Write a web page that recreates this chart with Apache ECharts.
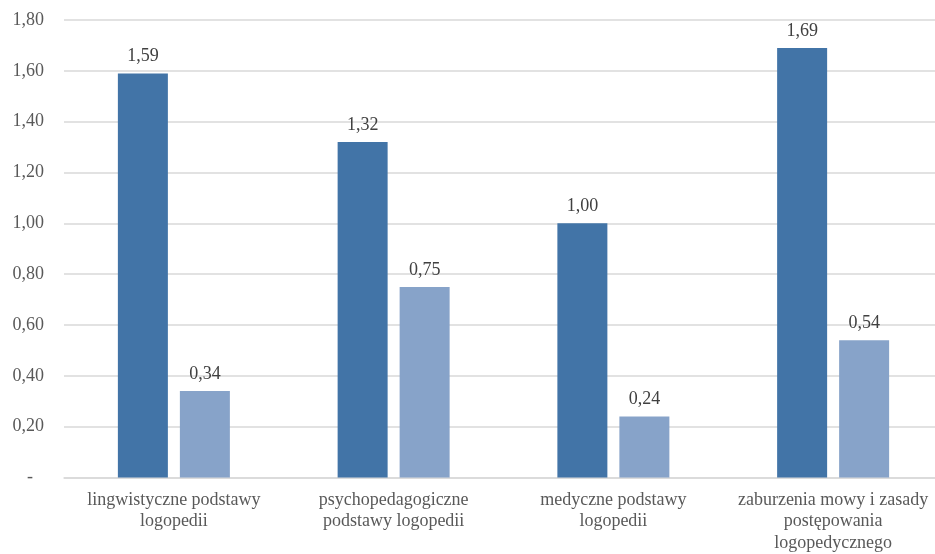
<!DOCTYPE html>
<html>
<head>
<meta charset="utf-8">
<script src="https://cdn.jsdelivr.net/npm/echarts@6/dist/echarts.min.js"></script>
<style>
  html, body { margin: 0; padding: 0; background: #fff; overflow: hidden; }
  /* the plot area runs a few pixels past the visible right edge */
  #chart { width: 945px; height: 554px; }
</style>
</head>
<body>
<div id="chart"></div>
<script>
// Subject areas (category axis)
const categories = [
  'lingwistyczne podstawy\nlogopedii',
  'psychopedagogiczne\npodstawy logopedii',
  'medyczne podstawy\nlogopedii',
  'zaburzenia mowy i zasady\npostępowania\nlogopedycznego'
];
// First series (dark bars)
const seriesA = [1.59, 1.32, 1.00, 1.69];
// Second series (light bars)
const seriesB = [0.34, 0.75, 0.24, 0.54];
// Value axis ticks
const yMin = 0, yMax = 1.8, yStep = 0.2;

const fmt = v => Math.abs(v) < 1e-9 ? '-' : v.toFixed(2).replace('.', ',');
const font = '"Liberation Serif", "Times New Roman", serif';

const chart = echarts.init(document.getElementById('chart'), null, { renderer: 'canvas' });
chart.setOption({
  animation: false,
  textStyle: { fontFamily: font },
  grid: { left: 64, right: 2, top: 20, bottom: 76, containLabel: false },
  xAxis: {
    type: 'category',
    data: categories,
    axisTick: { show: false },
    axisLine: { lineStyle: { color: '#d9d9d9', width: 1.5 } },
    axisLabel: {
      color: '#595959', fontSize: 18, fontFamily: font,
      lineHeight: 21.5, margin: 12, interval: 0
    }
  },
  yAxis: {
    type: 'value',
    min: yMin, max: yMax, interval: yStep,
    axisLine: { show: false },
    axisTick: { show: false },
    splitLine: { lineStyle: { color: '#d9d9d9', width: 1.5 } },
    axisLabel: {
      color: '#595959', fontSize: 18, fontFamily: font, margin: 20,
      formatter: v => Math.abs(v) < 1e-9 ? '{z|-}' : fmt(v),
      rich: { z: { color: '#595959', fontSize: 18, fontFamily: font, padding: [0, 11, 0, 0] } }
    }
  },
  series: [
    {
      type: 'bar', data: seriesA, barWidth: 50, barGap: '24%',
      itemStyle: { color: '#4274a7' },
      label: { show: true, position: 'top', distance: 8, color: '#404040', fontSize: 18, fontFamily: font, formatter: p => fmt(p.value) }
    },
    {
      type: 'bar', data: seriesB, barWidth: 50, barGap: '24%',
      itemStyle: { color: '#87a3c9' },
      label: { show: true, position: 'top', distance: 8, color: '#404040', fontSize: 18, fontFamily: font, formatter: p => fmt(p.value) }
    }
  ]
});
</script>
</body>
</html>
